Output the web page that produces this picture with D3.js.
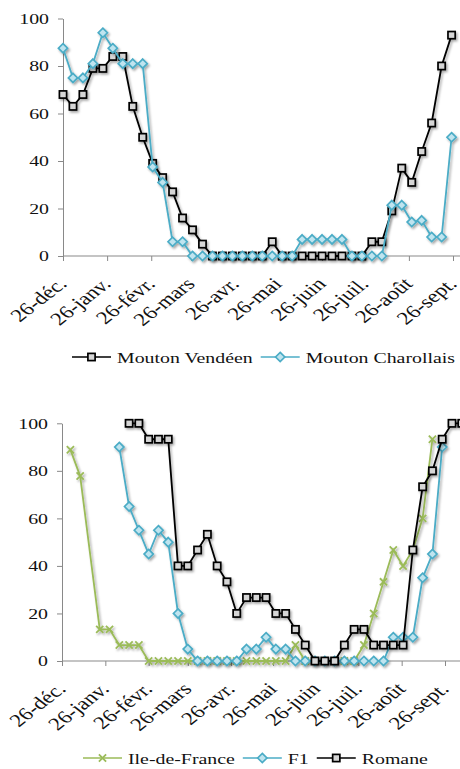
<!DOCTYPE html>
<html>
<head>
<meta charset="utf-8">
<script src="https://cdn.jsdelivr.net/npm/d3@7"></script>
<style>
  body { margin: 0; background: #fff; }
  svg { display: block; font-family: "Liberation Serif", "Times New Roman", serif; }
</style>
</head>
<body>
<svg id="chart" width="460" height="769"></svg>
<script>
// tick labels on the date axis (26th of each month)
const monthLabels = ["26-déc.", "26-janv.", "26-févr.", "26-mars", "26-avr.", "26-mai", "26-juin", "26-juil.", "26-août", "26-sept."];
const yTicks = [0, 20, 40, 60, 80, 100];

// top chart : weekly counts from 26 dec
const topStart = new Date(2010, 11, 26);
const vendeen = [68, 63, 68, 79, 79, 84, 84, 63, 50, 39,
                 33, 27, 16, 11, 5, 0, 0, 0, 0, 0,
                 0, 6, 0, 0, 0, 0, 0, 0, 0, 0,
                 0, 6, 6, 19, 37, 31, 44, 56, 80, 93];
const charollais = [87.5, 75, 75, 81, 94, 87.5, 81, 81, 81, 37.5,
                    31, 6, 6, 0, 0, 0, 0, 0, 0, 0,
                    0, 0, 0, 0, 7, 7, 7, 7, 7, 0,
                    0, 0, 0, 21.4, 21.4, 14.3, 15, 8, 8, 50];

// bottom chart : weekly counts from 1 jan (null = no value)
const botStart = new Date(2011, 0, 1);
const ileDeFrance = [88.9, 77.8, null, 13.3, 13.3, 6.7, 6.7, 6.7, 0, 0,
                     0, 0, 0, 0, 0, 0, 0, 0, 0, 0,
                     0, 0, 0, 6.7, 0, 0, 0, 0, 0, 0,
                     6.7, 20, 33.3, 46.7, 40, 46.7, 60, 93.3, null, null, null];
const f1 = [null, null, null, null, null, 90, 65, 55, 45, 55,
            50, 20, 5, 0, 0, 0, 0, 0, 5, 5,
            10, 5, 5, 0, 0, 0, 0, 0, 0, 0,
            0, 0, 0, 10, 10, 10, 35, 45, 90, null, null];
const romane = [null, null, null, null, null, null, 100, 100, 93.3, 93.3,
                93.3, 40, 40, 46.7, 53.3, 40, 33.3, 20, 26.7, 26.7,
                26.7, 20, 20, 13.3, 6.7, 0, 0, 0, 6.7, 13.3,
                13.3, 6.7, 6.7, 6.7, 6.7, 46.7, 73.3, 80, 93.3, 100, 100];

const tickDates = monthLabels.map((d, i) => new Date(2010, 11 + i, 26));
const weeks = (start, n) => d3.range(n).map(i => d3.timeDay.offset(start, 7 * i));

const sx = 1.28;   // the picture is stretched sideways
const axisColor = "#898989";

const svg = d3.select("#chart");
svg.append("defs").append("filter")
    .attr("id", "shadow").attr("x", "-30%").attr("y", "-30%").attr("width", "160%").attr("height", "160%")
  .append("feDropShadow")
    .attr("dx", 1.5).attr("dy", 1.8).attr("stdDeviation", 1.2)
    .attr("flood-color", "#000").attr("flood-opacity", 0.35);

function marker(sel, type, color) {
    if (type == "square") {
        sel.append("rect").attr("x", -3.6).attr("y", -3.6).attr("width", 7.2).attr("height", 7.2)
            .attr("fill", "#d6d6d6").attr("stroke", "#000").attr("stroke-width", 1.7);
    } else if (type == "diamond") {
        sel.append("path").attr("d", "M0,-4.6L4.6,0L0,4.6L-4.6,0Z")
            .attr("fill", "#bfe4ef").attr("stroke", color).attr("stroke-width", 1.7);
    } else {
        sel.append("path").attr("d", "M-3.6,-3.6L3.6,3.6M-3.6,3.6L3.6,-3.6")
            .attr("fill", "none").attr("stroke", color).attr("stroke-width", 1.8);
    }
}

function drawPanel(p) {
    const x = d3.scaleTime().domain([tickDates[0], tickDates[tickDates.length - 1]]).range([p.x0, p.x1]);
    const y = d3.scaleLinear().domain([0, 100]).range([p.y0, p.y1]);
    const g = svg.append("g");

    // y axis
    const ya = g.append("g").attr("transform", `translate(${p.x0},0)`)
        .call(d3.axisLeft(y).tickValues(yTicks).tickSize(5).tickSizeOuter(0).tickFormat(""));
    ya.selectAll("path, line").attr("stroke", axisColor);
    yTicks.forEach(v => {
        g.append("text")
            .attr("transform", `translate(${p.x0 - 14},${y(v)}) scale(${sx},1)`)
            .attr("text-anchor", "end").attr("dy", "0.35em")
            .attr("font-size", 15.5).attr("fill", "#111")
            .text(v);
    });

    // x axis
    const xa = g.append("g").attr("transform", `translate(0,${p.y0})`)
        .call(d3.axisBottom(x).tickValues(tickDates).tickSize(5).tickFormat(""));
    xa.select(".domain").remove();
    xa.selectAll("line").attr("stroke", axisColor);
    g.append("line").attr("x1", p.x0).attr("x2", 460).attr("y1", p.y0).attr("y2", p.y0)
        .attr("stroke", axisColor);
    tickDates.forEach((d, i) => {
        g.append("text")
            .attr("transform", `translate(${x(d) + 5},${p.y0 + 29}) scale(${sx},1) rotate(-45)`)
            .attr("text-anchor", "end")
            .attr("font-size", 18).attr("fill", "#111")
            .text(monthLabels[i]);
    });

    // series
    p.series.forEach(s => {
        const pts = s.values.map((v, i) => ({ date: s.dates[i], v: v })).filter(d => d.v != null);
        const sg = g.append("g").attr("filter", "url(#shadow)");
        sg.append("path")
            .datum(pts)
            .attr("fill", "none").attr("stroke", s.color).attr("stroke-width", 1.8)
            .attr("d", d3.line().x(d => x(d.date)).y(d => y(d.v)));
        sg.selectAll("g.pt")
            .data(pts)
            .join("g")
            .attr("class", "pt")
            .attr("transform", d => `translate(${x(d.date)},${y(d.v)})`)
            .each(function() { marker(d3.select(this), s.type, s.color); });
    });

    // legend
    let lx = p.legendX;
    p.series.forEach(s => {
        const lg = g.append("g");
        lg.append("line").attr("x1", lx).attr("x2", lx + 39).attr("y1", p.legendY).attr("y2", p.legendY)
            .attr("stroke", s.color).attr("stroke-width", 1.5);
        const m = lg.append("g").attr("transform", `translate(${lx + 19.5},${p.legendY})`);
        marker(m, s.type, s.color);
        const t = lg.append("text")
            .attr("transform", `translate(${lx + 45},${p.legendY + 5.5}) scale(${sx},1)`)
            .attr("font-size", 15.5).attr("fill", "#111")
            .text(s.name);
        lx += 45 + t.node().getComputedTextLength() * sx + 8;
    });
}

drawPanel({
    x0: 63, x1: 453, y0: 256, y1: 18.5,
    legendX: 72, legendY: 357,
    series: [
        { name: "Mouton Vendéen", values: vendeen, dates: weeks(topStart, vendeen.length), type: "square", color: "#000" },
        { name: "Mouton Charollais", values: charollais, dates: weeks(topStart, charollais.length), type: "diamond", color: "#4bacc6" }
    ]
});

drawPanel({
    x0: 62, x1: 445, y0: 661, y1: 423.3,
    legendX: 83, legendY: 758,
    series: [
        { name: "Ile-de-France", values: ileDeFrance, dates: weeks(botStart, ileDeFrance.length), type: "x", color: "#9bbb59" },
        { name: "F1", values: f1, dates: weeks(botStart, f1.length), type: "diamond", color: "#4bacc6" },
        { name: "Romane", values: romane, dates: weeks(botStart, romane.length), type: "square", color: "#000" }
    ]
});
</script>
</body>
</html>
